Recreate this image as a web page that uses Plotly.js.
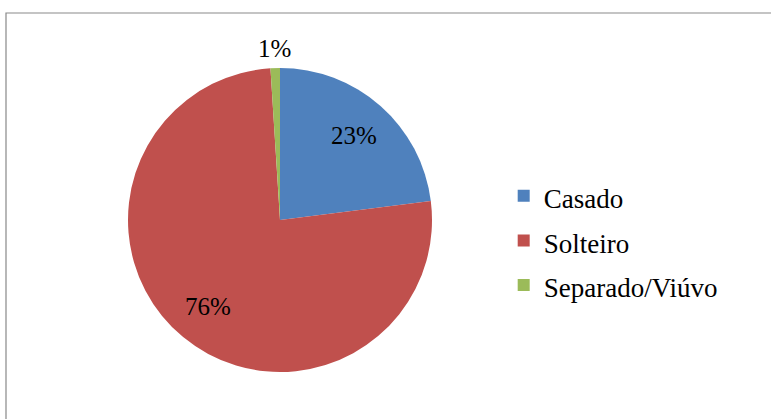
<!DOCTYPE html>
<html>
<head>
<meta charset="utf-8">
<script src="https://cdn.plot.ly/plotly-3.0.1.min.js"></script>
<style>
  html, body { margin: 0; padding: 0; background: #fff; }
  #chart { width: 771px; height: 419px; }
</style>
</head>
<body>
<div id="chart"></div>
<script>
// Estado civil
const categories = ['Casado', 'Solteiro', 'Separado/Viúvo'];
const values = [23, 76, 1];
const colors = ['#4F81BD', '#C0504D', '#9BBB59'];
const labelInside = [true, true, false];

const W = 771, H = 419;
const cx = 280, cy = 220, r = 152;
const serif = 'Liberation Serif, Times New Roman, serif';

const trace = {
  type: 'pie',
  labels: categories.map(c => '<span style="font-size:27px">' + c + '</span>'),
  values: values,
  sort: false,
  direction: 'clockwise',
  rotation: 0,
  marker: { colors: colors, line: { color: '#ffffff', width: 0 } },
  textinfo: 'none',
  hoverinfo: 'label+percent',
  domain: {
    x: [(cx - r) / W, (cx + r) / W],
    y: [(H - cy - r) / H, (H - cy + r) / H]
  }
};

// percentage labels placed at each slice's mid-angle (clockwise from 12 o'clock)
const total = values.reduce((a, b) => a + b, 0);
let cum = 0;
const annotations = values.map((v, i) => {
  const mid = (cum + v / 2) / total;
  cum += v;
  const theta = 2 * Math.PI * mid;
  const k = labelInside[i] ? 0.74 : 1.13;
  const px = cx + k * r * Math.sin(theta);
  const py = cy - k * r * Math.cos(theta);
  return {
    xref: 'paper', yref: 'paper',
    x: px / W, y: (H - py) / H,
    xanchor: 'center', yanchor: 'middle',
    text: Math.round(v / total * 100) + '%',
    showarrow: false,
    font: { family: serif, size: 25, color: '#000000' }
  };
});

const layout = {
  width: W,
  height: H,
  margin: { l: 0, r: 0, t: 0, b: 0 },
  paper_bgcolor: '#ffffff',
  showlegend: true,
  legend: {
    x: 0.6533, xanchor: 'left',
    y: 0.426, yanchor: 'middle',
    font: { family: serif, size: 32, color: '#000000' },
    itemwidth: 30,
    bgcolor: 'rgba(0,0,0,0)'
  },
  annotations: annotations,
  shapes: [{
    type: 'rect', xref: 'paper', yref: 'paper',
    x0: 6 / W, x1: 1.05, y0: -0.05, y1: (H - 13) / H,
    line: { color: '#898989', width: 1.2 },
    fillcolor: 'rgba(0,0,0,0)', layer: 'below'
  }]
};

Plotly.newPlot('chart', [trace], layout, { displayModeBar: false, staticPlot: true });
</script>
</body>
</html>
